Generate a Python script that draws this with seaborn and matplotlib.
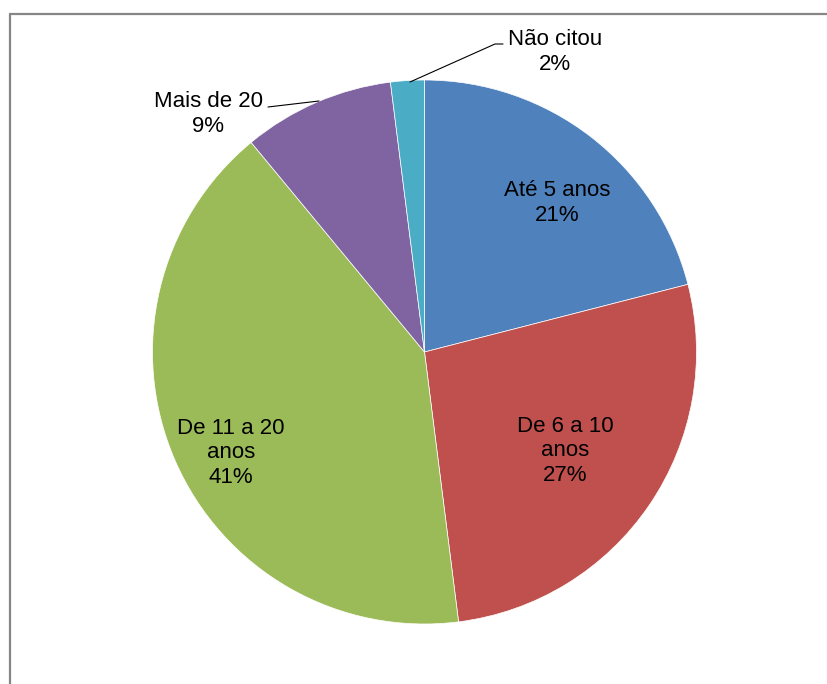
import matplotlib
matplotlib.use("Agg")
import matplotlib.pyplot as plt
from matplotlib.lines import Line2D
import seaborn as sns

# Tempo de atuação (faixas) e participação percentual
categories = ["Até 5 anos", "De 6 a 10\nanos", "De 11 a 20\nanos", "Mais de 20", "Não citou"]
shares = [21, 27, 41, 9, 2]
colors = ["#4F81BD", "#C0504D", "#9BBB59", "#8064A2", "#4BACC6"]

sns.set_theme(style="white")
plt.rcParams["font.family"] = ["Liberation Sans", "DejaVu Sans"]

W, H = 827, 684
fig = plt.figure(figsize=(W / 100, H / 100), dpi=100)
ax = fig.add_axes([0, 0, 1, 1])

cx, cy, r = 424.5, H - 352, 272
wedges, _ = ax.pie(
    shares,
    colors=colors,
    startangle=90,
    counterclock=False,
    center=(cx, cy),
    radius=r,
    wedgeprops=dict(edgecolor="white", linewidth=0.5),
)
ax.set_xlim(0, W)
ax.set_ylim(0, H)
ax.set_aspect("equal")
ax.axis("off")

# label anchor points (pixel space, y measured from top)
label_pos = [(557, 203), (565, 451), (231, 453), (208, 114), (555, 52)]
for cat, val, (lx, ly) in zip(categories, shares, label_pos):
    ax.text(lx, H - ly, f"{cat}\n{val}%", ha="center", va="center",
            fontsize=16, color="black", linespacing=1.22)

# leader lines for the two small slices
ax.add_line(Line2D([268, 319], [H - 107, H - 101], color="black", lw=0.8))
ax.add_line(Line2D([503, 495, 410], [H - 44, H - 44, H - 82], color="black", lw=0.8))

# chart-area border (top and left edges)
fig.add_artist(Line2D([9.5 / W, 1.0], [1 - 13.5 / H, 1 - 13.5 / H],
                      transform=fig.transFigure, color="#868686", lw=1.6))
fig.add_artist(Line2D([9.5 / W, 9.5 / W], [0.0, 1 - 13.5 / H],
                      transform=fig.transFigure, color="#868686", lw=1.6))

fig.savefig("out.png", dpi=100, facecolor="white")
